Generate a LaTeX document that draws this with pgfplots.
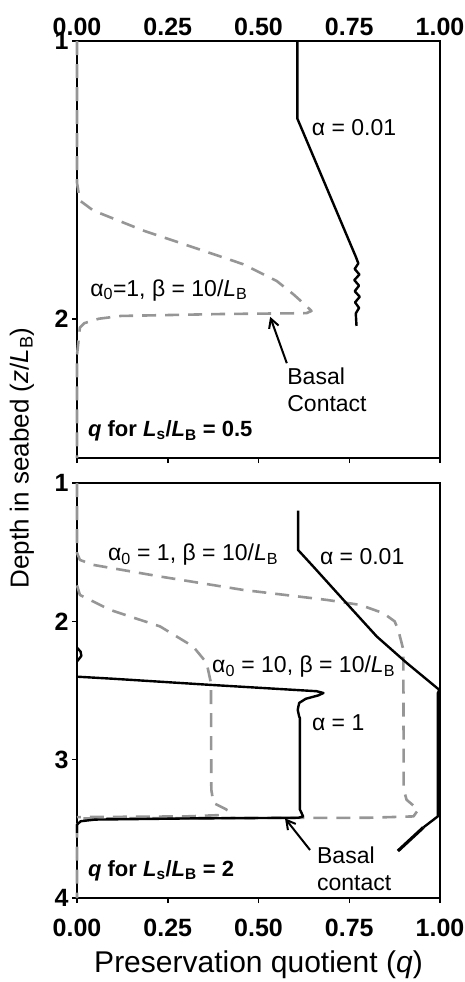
\documentclass[border=0pt]{standalone}
\usepackage{fontspec}
\setmainfont{Liberation Sans}
\usepackage{pgfplots}
\pgfplotsset{compat=1.18}
\usetikzlibrary{arrows.meta}
\definecolor{dgray}{RGB}{150,150,150}
\newcommand{\fsz}[1]{\fontsize{#1}{#1}\selectfont}
\tikzset{lab/.style={font=\fsz{23},inner sep=0pt}}
\begin{document}
\begin{tikzpicture}
\useasboundingbox (0pt,0pt) rectangle (465pt,-982pt);
\pgfplotsset{
 panel/.style={
  scale only axis, width=363pt,
  xmin=0, xmax=1,
  y dir=reverse,
  axis line style={line width=2pt},
  xtick={0,0.25,0.5,0.75,1},
  xticklabels={0.00,0.25,0.50,0.75,1.00},
  tick style={line width=1.5pt,black},
  major tick length=5pt,
  tick align=outside,
  ytick pos=left,
  xticklabel style={font=\bfseries\fsz{25}},
  yticklabel style={font=\bfseries\fsz{25}},
  /pgf/number format/assume math mode=true,
  clip=false,
 },
 sol/.style={black,line width=2.4pt,line join=round},
 dsh/.style={dgray,line width=2.6pt,dash pattern=on 14pt off 9pt,line join=round},
}
% ---------------- top panel ----------------
\begin{axis}[panel, at={(77pt,-41pt)}, anchor=north west, height=417pt,
  ymin=1, ymax=2.5, ytick={1,2}, yticklabels={1,2},
  xtick pos=left, xticklabel pos=right, xticklabel style={yshift=-3pt}]
\addplot[sol] coordinates {(0.607,1.0) (0.607,1.279) (0.769,1.779) (0.775,1.80) (0.765,1.82) (0.778,1.84) (0.764,1.86) (0.777,1.88) (0.765,1.90) (0.779,1.92) (0.766,1.94) (0.777,1.96) (0.768,1.98) (0.770,2.025)};
\addplot[dsh] coordinates {(0,1.0) (0,1.51) (0.008,1.574) (0.045,1.61) (0.183,1.682) (0.32,1.742) (0.458,1.803) (0.55,1.863) (0.596,1.911) (0.625,1.945) (0.646,1.971) (0.632,1.979) (0.4,1.982) (0.121,1.989) (0.06,1.999) (0.02,2.015) (0.008,2.031) (0,2.13) (0,2.5)};
\node[lab] at (axis cs:0.763,1.313) {α = 0.01};
\node[lab,anchor=west] at (axis cs:0.036,1.896) {α\textsubscript{0}=1, β = 10/\textit{L}\textsubscript{B}};
\draw[line width=2pt,-{Straight Barb[length=9pt,width=10pt]}] (axis cs:0.578,2.159) -- (axis cs:0.532,1.992);
\node[lab,anchor=north west,align=left] at (axis cs:0.579,2.175) {Basal\\[4pt]Contact};
\node[lab,anchor=west,font=\bfseries\fsz{22}] at (axis cs:0.030,2.403) {\textit{q} for \textit{L}\textsubscript{s}/\textit{L}\textsubscript{B} = 0.5};
\end{axis}
% ---------------- bottom panel ----------------
\begin{axis}[panel, at={(77pt,-483pt)}, anchor=north west, height=415pt,
  ymin=1, ymax=4, ytick={1,2,3,4}, yticklabels={1,2,3,4},
  xtick pos=left, xticklabel pos=left, xticklabel style={yshift=-12pt}]
\addplot[dsh] coordinates {(0,1.0) (0,1.505) (0.008,1.556) (0.045,1.592) (0.229,1.676) (0.458,1.773) (0.688,1.845) (0.78,1.881) (0.844,1.941) (0.875,2.0) (0.885,2.061) (0.899,2.206) (0.9,3.217) (0.908,3.29) (0.94,3.361) (0.927,3.41) (0.8,3.42) (0.3,3.422) (0.01,3.425) (0,3.47) (0,4.0)};
\addplot[dsh] coordinates {(0,1.74) (0.008,1.809) (0.091,1.917) (0.229,2.037) (0.32,2.182) (0.357,2.30) (0.369,2.446) (0.37,3.217) (0.376,3.313) (0.412,3.36) (0.40,3.40) (0.3,3.41) (0.0,3.415)};
\addplot[sol] coordinates {(0.609,1.20) (0.609,1.484) (0.651,1.604) (0.734,1.845) (0.826,2.11) (0.908,2.30) (0.998,2.495) (0.994,2.52) (0.994,3.41) (0.954,3.49)};
\addplot[sol,line width=3.2pt] coordinates {(0.954,3.49) (0.884,3.66)};
\addplot[sol] coordinates {(0,2.19) (0.01,2.22) (0.012,2.25) (0.003,2.28) (0,2.29)};
\addplot[sol] coordinates {(0,2.40) (0.1,2.415) (0.366,2.459) (0.596,2.495) (0.66,2.505) (0.679,2.518) (0.665,2.535) (0.63,2.56) (0.612,2.59) (0.608,2.64) (0.612,2.687) (0.614,2.7) (0.614,3.36) (0.623,3.41) (0.61,3.42) (0.3,3.425) (0.05,3.433) (0.01,3.445) (0,3.47) (0,3.53)};
\node[lab,anchor=west] at (axis cs:0.085,1.52) {α\textsubscript{0} = 1, β = 10/\textit{L}\textsubscript{B}};
\node[lab,anchor=west] at (axis cs:0.669,1.535) {α = 0.01};
\node[lab,anchor=west] at (axis cs:0.372,2.33) {α\textsubscript{0} = 10, β = 10/\textit{L}\textsubscript{B}};
\node[lab,anchor=west] at (axis cs:0.647,2.735) {α = 1};
\draw[line width=2pt,-{Straight Barb[length=9pt,width=10pt]}] (axis cs:0.642,3.653) -- (axis cs:0.573,3.424);
\node[lab,anchor=north west,align=left] at (axis cs:0.661,3.63) {Basal\\[4pt]contact};
\node[lab,anchor=west,font=\bfseries\fsz{22}] at (axis cs:0.030,3.80) {\textit{q} for \textit{L}\textsubscript{s}/\textit{L}\textsubscript{B} = 2};
\end{axis}
\node[font=\fsz{30}] at (258.5pt,-965pt) {Preservation quotient (\textit{q})};
\node[rotate=90,font=\fsz{26}] at (22pt,-458pt) {Depth in seabed (\textit{z}/\textit{L}\textsubscript{B})};
\end{tikzpicture}
\end{document}
